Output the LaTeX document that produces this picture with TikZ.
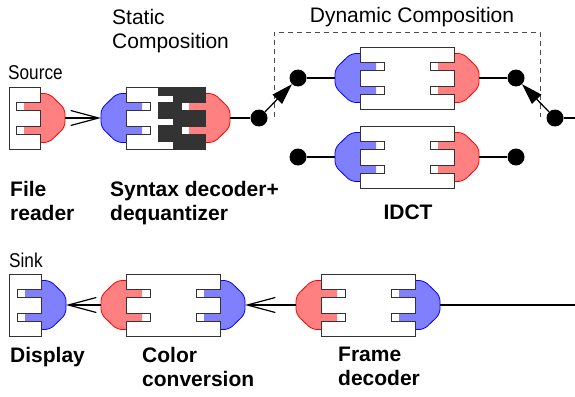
\documentclass[tikz,border=0pt]{standalone}
\usepackage{fontspec}
\setmainfont{Liberation Sans}
\newfontfamily\narrowfont[FakeStretch=0.86]{Liberation Sans}
\usetikzlibrary{arrows.meta}

\definecolor{combdark}{RGB}{51,51,51}

% plug: #1 edge point, #2 direction (1 right, -1 left), #3 colour
\newcommand{\plugcap}[3]{%
  \begin{scope}[shift={#1},xscale=#2]
    \fill[#3!50] (0,-16) rectangle (-16,-8) (0,8) rectangle (-16,16);
    \filldraw[fill=#3!50,draw=#3,line width=0.8pt,rounded corners=5pt] (0,-24.5) -- (9,-24.5) -- (25,-9) -- (25,9) -- (9,24.5) -- (0,24.5);
  \end{scope}}
% box with sockets on both sides: #1 left-centre point, #2 width
\newcommand{\sockbox}[2]{%
  \begin{scope}[shift={#1}]
    \filldraw[boxline] (0,-31) -- (#2,-31) -- (#2,-16) -- (#2-24,-16) -- (#2-24,-8) -- (#2,-8) -- (#2,8) -- (#2-24,8) -- (#2-24,16) -- (#2,16) -- (#2,31) -- (0,31) -- (0,16) -- (24,16) -- (24,8) -- (0,8) -- (0,-8) -- (24,-8) -- (24,-16) -- (0,-16) -- cycle;
  \end{scope}}
% box with sockets on the right only
\newcommand{\termbox}[2]{%
  \begin{scope}[shift={#1}]
    \filldraw[boxline] (0,-31) -- (#2,-31) -- (#2,-16) -- (#2-24,-16) -- (#2-24,-8) -- (#2,-8) -- (#2,8) -- (#2-24,8) -- (#2-24,16) -- (#2,16) -- (#2,31) -- (0,31) -- cycle;
  \end{scope}}

\tikzset{
  boxline/.style={draw=black!80,fill=white,line width=0.9pt},
  wire/.style={line width=1.3pt},
  swdot/.style={circle,fill=black,inner sep=0pt,minimum size=17pt},
  compname/.style={font=\fontsize{21}{24}\selectfont\bfseries,align=left,anchor=north west,inner sep=0pt},
  plaintext/.style={font=\fontsize{21}{24}\selectfont,align=left,inner sep=0pt},
  openhead/.style={-{Straight Barb[length=28pt,width=15pt,line width=1.2pt]}},
  trihead/.style={-{Triangle[length=21pt,width=13pt]}}
}

\begin{document}
\begin{tikzpicture}[x=1pt,y=-1pt]
    \useasboundingbox (0,0) rectangle (575,396);

    % top row
    \plugcap{(40,118)}{1}{red}
    \termbox{(9,118)}{31}
    \coordinate (src-out) at (65,118);

    \plugcap{(126,118)}{-1}{blue}
    \plugcap{(205,118)}{1}{red}
    \sockbox{(126,118)}{79}
    \begin{scope}[shift={(126,118)}]
      \filldraw[boxline,fill=combdark] (32,-31) -- (79,-31) -- (79,-16) -- (55,-16) -- (55,-8) -- (79,-8) -- (79,8) -- (55,8) -- (55,16) -- (79,16) -- (79,31) -- (47,31) -- (47,23) -- (32,23) -- (32,7) -- (47,7) -- (47,0) -- (32,0) -- (32,-16) -- (47,-16) -- (47,-23) -- (32,-23) -- cycle;
    \end{scope}
    \coordinate (syn-in) at (101,118);
    \coordinate (syn-out) at (230,118);

    \plugcap{(360,78)}{-1}{blue}
    \plugcap{(454,78)}{1}{red}
    \sockbox{(360,78)}{94}
    \coordinate (idct1-in) at (335,78);
    \coordinate (idct1-out) at (479,78);

    \plugcap{(360,157)}{-1}{blue}
    \plugcap{(454,157)}{1}{red}
    \sockbox{(360,157)}{94}
    \coordinate (idct2-in) at (335,157);
    \coordinate (idct2-out) at (479,157);

    \node[swdot] (d-in) at (259,118) {};
    \node[swdot] (d-up-l) at (298,78) {};
    \node[swdot] (d-lo-l) at (298,157) {};
    \node[swdot] (d-up-r) at (516,78) {};
    \node[swdot] (d-lo-r) at (516,157) {};
    \node[swdot] (d-out) at (555,118) {};
    \coordinate (top-end) at (575,118);

    \draw[dashed,black!70,line width=0.8pt,dash pattern=on 5pt off 4pt] (274,117) -- (274,32) -- (540,32) -- (540,117);

    \draw[wire,openhead] (src-out) -- (syn-in);
    \draw[wire] (syn-out) -- (d-in);
    \draw[wire,trihead] (d-in) -- (d-up-l);
    \draw[wire] (d-up-l) -- (idct1-in);
    \draw[wire] (idct1-out) -- (d-up-r);
    \draw[wire] (d-lo-l) -- (idct2-in);
    \draw[wire] (idct2-out) -- (d-lo-r);
    \draw[wire,trihead] (d-out) -- (d-up-r);
    \draw[wire] (d-out) -- (top-end);

    % bottom row
    \plugcap{(41,305)}{1}{blue}
    \termbox{(9,305)}{32}
    \coordinate (sink-in) at (66,305);

    \plugcap{(126,305)}{-1}{red}
    \plugcap{(220,305)}{1}{blue}
    \sockbox{(126,305)}{94}
    \coordinate (col-in) at (101,305);
    \coordinate (col-out) at (245,305);

    \plugcap{(321,305)}{-1}{red}
    \plugcap{(415,305)}{1}{blue}
    \sockbox{(321,305)}{94}
    \coordinate (frm-in) at (296,305);
    \coordinate (frm-out) at (440,305);
    \coordinate (bot-end) at (575,305);

    \draw[wire,openhead] (col-in) -- (sink-in);
    \draw[wire,openhead] (frm-in) -- (col-out);
    \draw[wire] (frm-out) -- (bot-end);

    % texts
    \node[font=\fontsize{20}{24}\narrowfont,anchor=base west,inner sep=0pt] (src-txt) at (8,79) {Source};
    \node[font=\fontsize{20}{24}\narrowfont,anchor=base west,inner sep=0pt] (sink-txt) at (9,267) {Sink};
    \node[plaintext,anchor=north west] (static-txt) at (112,8.7) {Static\\Composition};
    \node[plaintext,anchor=base] (dyn-txt) at (412,23) {Dynamic Composition};
    \node[compname] (file-txt) at (10,180.7) {File\\reader};
    \node[compname] (syn-txt) at (110,180.7) {Syntax decoder+\\dequantizer};
    \node[compname,anchor=base] (idct-txt) at (408,219) {IDCT};
    \node[compname] (disp-txt) at (10,346.7) {Display};
    \node[compname] (col-txt) at (142,346.7) {Color\\conversion};
    \node[compname] (frm-txt) at (338,346.7) {Frame\\decoder};
\end{tikzpicture}
\end{document}
